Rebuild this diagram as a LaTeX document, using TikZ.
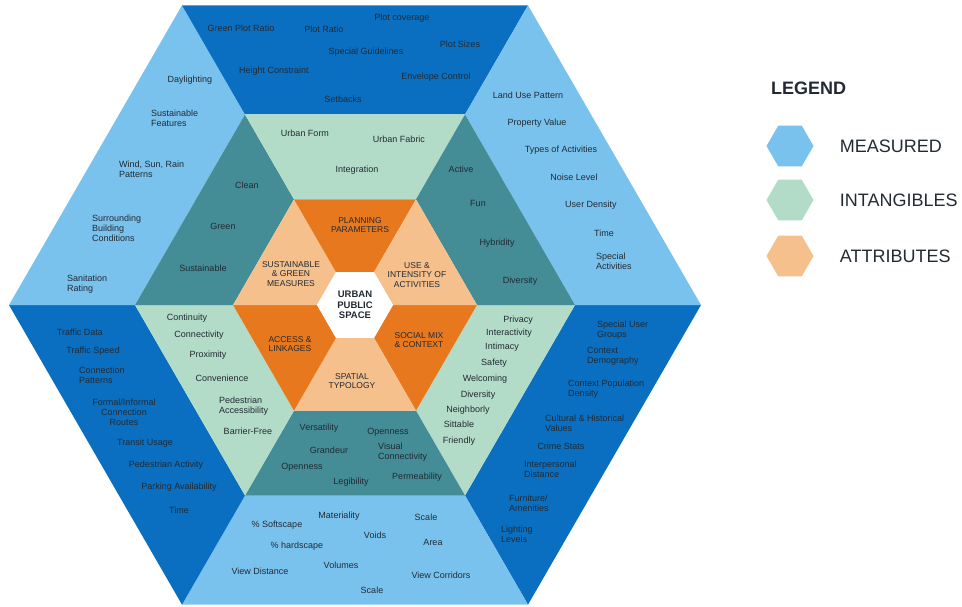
\documentclass[tikz,border=0pt]{standalone}
\usepackage{fontspec}
\setmainfont{Liberation Sans}
\usetikzlibrary{shapes.geometric,positioning}
\definecolor{deepblue}{HTML}{0A6FC0}
\definecolor{skyblue}{HTML}{7AC2EE}
\definecolor{mint}{HTML}{B3DCC8}
\definecolor{tealgrey}{HTML}{448C96}
\definecolor{deeporange}{HTML}{E8781E}
\definecolor{peach}{HTML}{F5C08C}
\definecolor{txt}{HTML}{222A33}
\tikzset{
    lbl/.style={font=\fontsize{9}{10}\selectfont, text=txt, inner sep=0pt},
    ctr/.style={anchor=center, align=center},
    lft/.style={anchor=west, align=left},
    attrtxt/.style={font=\fontsize{8.5}{9.4}\selectfont, text=txt, align=center, inner sep=0pt},
    leghex/.style={regular polygon, regular polygon sides=6, minimum size=47pt, inner sep=0pt},
    legtxt/.style={font=\fontsize{18}{20}\selectfont, text=txt, anchor=west, inner sep=0pt},
}
% one ring of six trapezoids, colours alternate
\newcommand{\hexring}[4] {
    \foreach \ang/\col in {0/#3,60/#4,120/#3,180/#4,240/#3,300/#4}
        \fill[\col] (\ang:#1) -- (\ang:#2) -- ({\ang+60}:#2) -- ({\ang+60}:#1) -- cycle;
}

\begin{document}
\begin{tikzpicture}[x=1pt,y=-1pt]
    \useasboundingbox (0,0) rectangle (962,606);
    \begin{scope}[shift={(355,305)}]
        \hexring{220}{346}{deepblue}{skyblue}
        \hexring{122}{220}{mint}{tealgrey}
        \hexring{38}{122}{deeporange}{peach}
    \end{scope}
    \node[leghex, fill=white, minimum size=76pt, font=\bfseries\fontsize{9.5}{10.3}\selectfont,
        text=txt, align=center] (core) at (355,305) {URBAN\\PUBLIC\\SPACE};

    % attributes
    \foreach \x/\y/\t [count=\i] in {
        360/225/PLANNING\\PARAMETERS,
        291/274/SUSTAINABLE\\\& GREEN\\MEASURES,
        417/275/USE \&\\INTENSITY OF\\ACTIVITIES,
        290/344/ACCESS \&\\LINKAGES,
        419/340/SOCIAL MIX\\\& CONTEXT,
        352/381/SPATIAL\\TYPOLOGY}
        \node[attrtxt] (attr\i) at (\x,\y) {\t};

    % intangibles
    \foreach \x/\y/\s/\t [count=\i] in {
        305/133/ctr/Urban Form, 399/139/ctr/Urban Fabric, 357/170/ctr/Integration,
        247/185/ctr/Clean, 223/226/ctr/Green, 203/268/ctr/Sustainable,
        461/169/ctr/Active, 478/203/ctr/Fun, 497/243/ctr/Hybridity, 520/281/ctr/Diversity,
        187/318/ctr/Continuity, 199/335/ctr/Connectivity, 208/355/ctr/Proximity,
        222/378/ctr/Convenience, 219/406/lft/Pedestrian\\Accessibility, 248/431/ctr/Barrier-Free,
        319/428/ctr/Versatility, 388/432/ctr/Openness, 329/450/ctr/Grandeur,
        378/452/lft/Visual\\Connectivity, 302/467/ctr/Openness, 351/482/ctr/Legibility,
        417/477/ctr/Permeability,
        518/320/ctr/Privacy, 509/333/ctr/Interactivity, 502/347/ctr/Intimacy,
        494/363/ctr/Safety, 485/379/ctr/Welcoming, 478/395/ctr/Diversity,
        468/410/ctr/Neighborly, 459/424/ctr/Sittable, 459/441/ctr/Friendly}
        \node[lbl, \s] (intg\i) at (\x,\y) {\t};

    % measured
    \foreach \x/\y/\s/\t [count=\i] in {
        241/28/ctr/Green Plot Ratio, 324/29/ctr/Plot Ratio, 402/18/ctr/Plot coverage,
        460/44/ctr/Plot Sizes, 366/52/ctr/Special Guidelines, 274/71/ctr/Height Constraint,
        436/77/ctr/Envelope Control, 343/99/ctr/Setbacks,
        190/80/ctr/Daylighting, 151/118/lft/Sustainable\\Features,
        119/169/lft/{Wind, Sun, Rain\\Patterns}, 92/228/lft/Surrounding\\Building\\Conditions,
        67/284/lft/Sanitation\\Rating,
        528/95/ctr/Land Use Pattern, 537/123/ctr/Property Value, 561/150/ctr/Types of Activities,
        574/177/ctr/Noise Level, 591/205/ctr/User Density, 604/233/ctr/Time,
        596/261/lft/Special\\Activities,
        80/332/ctr/Traffic Data, 93/351/ctr/Traffic Speed, 79/375/lft/Connection\\Patterns,
        124/412/ctr/{Formal/Informal\\Connection\\Routes}, 145/443/ctr/Transit Usage,
        166/465/ctr/Pedestrian Activity, 179/487/ctr/Parking Availability, 179/510/ctr/Time,
        597/330/lft/Special User\\Groups, 587/356/lft/Context\\Demography,
        568/389/lft/Context Population\\Density, 545/423/lft/Cultural \& Historical\\Values,
        561/446/ctr/Crime Stats, 524/469/lft/Interpersonal\\Distance,
        509/503/lft/{Furniture/\\Amenities}, 501/534/lft/Lighting\\Levels,
        277/525/ctr/\% Softscape, 339/516/ctr/Materiality, 426/517/ctr/Scale,
        375/535/ctr/Voids, 297/546/ctr/\% hardscape, 433/542/ctr/Area,
        260/571/ctr/View Distance, 341/565/ctr/Volumes, 441/575/ctr/View Corridors,
        372/590/ctr/Scale}
        \node[lbl, \s] (meas\i) at (\x,\y) {\t};

    % legend
    \node[legtxt, font=\bfseries\fontsize{18}{20}\selectfont] (legend) at (771,88) {LEGEND};
    \node[leghex, fill=skyblue] (hexm) at (790,146) {};
    \node[leghex, fill=mint] (hexi) at (790,200) {};
    \node[leghex, fill=peach] (hexa) at (790,256) {};
    \node[legtxt, right=26pt of hexm] (measured) {MEASURED};
    \node[legtxt, right=26pt of hexi] (intangibles) {INTANGIBLES};
    \node[legtxt, right=26pt of hexa] (attributes) {ATTRIBUTES};
\end{tikzpicture}
\end{document}
